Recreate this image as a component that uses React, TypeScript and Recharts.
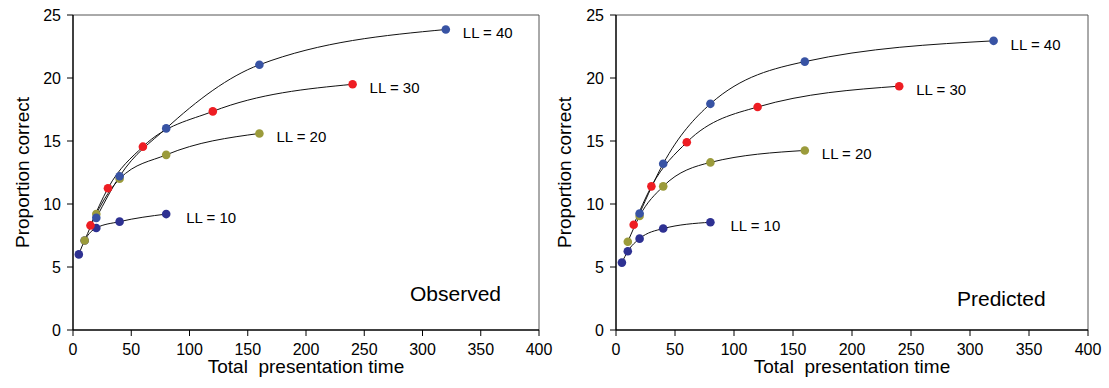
import { LineChart, Line, XAxis, YAxis, ReferenceLine } from "recharts";

// presentation times per list length
const times10 = [5, 10, 20, 40, 80];
const times20 = [10, 20, 40, 80, 160];
const times30 = [15, 30, 60, 120, 240];
const times40 = [20, 40, 80, 160, 320];

const observed10 = [6.0, 7.1, 8.1, 8.6, 9.2];
const observed20 = [7.1, 9.2, 12.0, 13.9, 15.6];
const observed30 = [8.3, 11.25, 14.55, 17.35, 19.5];
const observed40 = [8.9, 12.2, 16.0, 21.05, 23.85];

const predicted10 = [5.35, 6.25, 7.25, 8.05, 8.55];
const predicted20 = [7.0, 9.05, 11.4, 13.3, 14.25];
const predicted30 = [8.35, 11.4, 14.9, 17.7, 19.35];
const predicted40 = [9.25, 13.2, 17.95, 21.3, 22.95];

const seriesLabels = ["LL = 10", "LL = 20", "LL = 30", "LL = 40"];
const xTicks = [0, 50, 100, 150, 200, 250, 300, 350, 400];
const yTicks = [0, 5, 10, 15, 20, 25];

const colors = ["#2E3192", "#9B9B3B", "#EE1D23", "#3853A4"];
const FONT = "'Liberation Sans', Arial, Helvetica, sans-serif";

const toPoints = (times: number[], values: number[]) =>
  times.map((t, i) => ({ t, v: values[i] }));

const YTitle = ({ viewBox, left }: any) => {
  const cy = viewBox.y + viewBox.height / 2;
  return (
    <text
      x={left}
      y={cy}
      transform={`rotate(-90, ${left}, ${cy})`}
      textAnchor="middle"
      dominantBaseline="central"
      fontSize={19}
      fontFamily={FONT}
      fill="#000"
    >
      Proportion correct
    </text>
  );
};

const XTitle = ({ viewBox }: any) => (
  <text
    x={viewBox.x + viewBox.width / 2}
    y={373}
    textAnchor="middle"
    fontSize={19}
    fontFamily={FONT}
    fill="#000"
    style={{ whiteSpace: "pre" }}
  >
    {"Total\u00a0 presentation time"}
  </text>
);

interface PanelProps {
  title: string;
  series: { t: number; v: number }[][];
  yAxisWidth: number;
  marginRight: number;
  width: number;
  titleLeft: number;
  yTitleX: number;
}

function Panel({ series, yAxisWidth, marginRight, width, yTitleX }: PanelProps) {
  return (
    <LineChart
      width={width}
      height={388}
      margin={{ top: 15, right: marginRight, bottom: 0, left: 0 }}
    >
      <XAxis
        dataKey="t"
        type="number"
        domain={[0, 400]}
        ticks={xTicks}
        height={58}
        tickSize={6}
        tickMargin={8}
        axisLine={{ stroke: "#000", strokeWidth: 1.5 }}
        tickLine={{ stroke: "#000" }}
        tick={{ fontSize: 16, fill: "#000", fontFamily: FONT }}
        label={<XTitle />}
      />
      <YAxis
        dataKey="v"
        type="number"
        domain={[0, 25]}
        ticks={yTicks}
        width={yAxisWidth}
        tickSize={6}
        tickMargin={6}
        axisLine={{ stroke: "#000", strokeWidth: 1.5 }}
        tickLine={{ stroke: "#000" }}
        tick={{ fontSize: 16, fill: "#000", fontFamily: FONT }}
        label={<YTitle left={yTitleX} />}
      />
      <ReferenceLine y={25} stroke="#555" strokeWidth={1} />
      <ReferenceLine x={400} stroke="#555" strokeWidth={1} />
      {series.map((pts, s) => (
        <Line
          key={s}
          data={pts}
          dataKey="v"
          type="monotone"
          stroke="#111"
          strokeWidth={1}
          isAnimationActive={false}
          dot={{ r: 4.3, fill: colors[s], stroke: "none" }}
          activeDot={false}
          label={(p: any) =>
            p.index === pts.length - 1 ? (
              <text
                key={`lbl-${s}`}
                x={p.x + (s === 0 ? 20 : 17)}
                y={p.y + 9}
                fontSize={15}
                fontFamily={FONT}
                fill="#000"
              >
                {seriesLabels[s]}
              </text>
            ) : (
              <g key={`lbl-${s}-${p.index}`} />
            )
          }
        />
      ))}
    </LineChart>
  );
}

export default function App() {
  const observed = [
    toPoints(times10, observed10),
    toPoints(times20, observed20),
    toPoints(times30, observed30),
    toPoints(times40, observed40),
  ];
  const predicted = [
    toPoints(times10, predicted10),
    toPoints(times20, predicted20),
    toPoints(times30, predicted30),
    toPoints(times40, predicted40),
  ];

  return (
    <div
      style={{
        position: "absolute",
        left: 0,
        top: 0,
        width: 1109,
        height: 388,
        background: "#fff",
        fontFamily: FONT,
      }}
    >
      <div style={{ position: "absolute", left: 0, top: 0 }}>
        <Panel
          title="Observed"
          series={observed}
          width={555}
          yAxisWidth={73}
          marginRight={16}
          titleLeft={410}
          yTitleX={22}
        />
      </div>
      <div style={{ position: "absolute", left: 555, top: 0 }}>
        <Panel
          title="Predicted"
          series={predicted}
          width={554}
          yAxisWidth={61}
          marginRight={21}
          titleLeft={402}
          yTitleX={9}
        />
      </div>
      <div
        style={{
          position: "absolute",
          left: 410,
          top: 283,
          fontSize: 21,
          lineHeight: "21px",
          color: "#000",
        }}
      >
        Observed
      </div>
      <div
        style={{
          position: "absolute",
          left: 957,
          top: 288,
          fontSize: 21,
          lineHeight: "21px",
          color: "#000",
        }}
      >
        Predicted
      </div>
    </div>
  );
}
